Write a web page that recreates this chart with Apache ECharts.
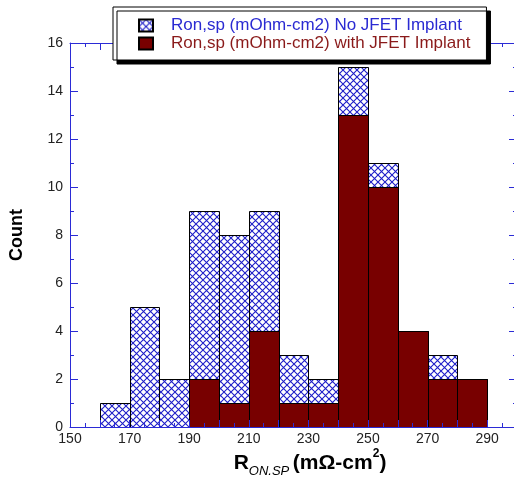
<!DOCTYPE html>
<html>
<head>
<meta charset="utf-8">
<script src="https://cdn.jsdelivr.net/npm/echarts@6/dist/echarts.min.js"></script>
<style>
  html, body { margin: 0; padding: 0; background: #fff; overflow: hidden; }
  #chart { width: 520px; height: 485px; }
</style>
</head>
<body>
<div id="chart"></div>
<script>
// Histogram bins: left edge of each 10 mOhm-cm2 bin
const binStarts = [160, 170, 180, 190, 200, 210, 220, 230, 240, 250, 260, 270, 280];
const binWidth = 10;
// Counts per bin
const countsNoJfet = [1, 5, 2, 9, 8, 9, 3, 2, 15, 11, 4, 3, 2];
const countsWithJfet = [0, 0, 0, 2, 1, 4, 1, 1, 13, 10, 4, 2, 2];
// Axis tick labels
const xTickLabels = [150, 170, 190, 210, 230, 250, 270, 290];
const yTickLabels = [0, 2, 4, 6, 8, 10, 12, 14, 16];

const nameNo = 'Ron,sp (mOhm-cm2) No JFET Implant';
const nameWith = 'Ron,sp (mOhm-cm2) with JFET Implant';

const axisBlue = '#2b2bd6';
const hatchBlue = '#1e1ec8';
const darkRed = '#780000';
const font = '"Liberation Sans", Arial, sans-serif';

// Cross-hatch tile for the "No JFET" bars
function makeHatch() {
  const s = 7;
  const c = document.createElement('canvas');
  c.width = s; c.height = s;
  const g = c.getContext('2d');
  g.fillStyle = '#fff';
  g.fillRect(0, 0, s, s);
  g.strokeStyle = hatchBlue;
  g.lineWidth = 1.1;
  g.beginPath();
  g.moveTo(0, 0); g.lineTo(s, s);
  g.moveTo(s, 0); g.lineTo(0, s);
  g.stroke();
  return c;
}
const hatch = { image: makeHatch(), repeat: 'repeat' };

function binData(counts) {
  return binStarts.map((b, i) => [b, b + binWidth, counts[i]]);
}

function renderBin(params, api) {
  const x0 = api.value(0), x1 = api.value(1), y = api.value(2);
  if (!y) return null;
  const pTop = api.coord([x0, y]);
  const pBot = api.coord([x1, 0]);
  const left = Math.round(pTop[0]) + 0.5;
  const right = Math.round(pBot[0]) + 0.5;
  const top = Math.round(pTop[1]) + 0.5;
  const bottom = Math.round(pBot[1]) + 0.5;
  return {
    type: 'rect',
    shape: { x: left, y: top, width: right - left, height: bottom - top },
    style: api.style({ stroke: '#000', lineWidth: 1 })
  };
}

const tickStyle = { color: axisBlue, width: 1 };

const chart = echarts.init(document.getElementById('chart'), null, { renderer: 'canvas' });
chart.setOption({
  animation: false,
  backgroundColor: '#fff',
  grid: { left: 68, top: 43, right: 2, bottom: 58 },
  legend: {
    orient: 'vertical',
    left: 113,
    top: 7,
    padding: [10, 16, 8, 25],
    itemWidth: 14,
    itemHeight: 12,
    itemGap: 1,
    icon: 'rect',
    backgroundColor: '#fff',
    borderColor: '#000',
    borderWidth: 1,
    shadowColor: '#000',
    shadowBlur: 0,
    shadowOffsetX: 4,
    shadowOffsetY: 4,
    selectedMode: false,
    textStyle: { fontFamily: font, fontSize: 17, lineHeight: 17, padding: [0, 0, 0, 13] },
    data: [
      { name: nameNo, textStyle: { color: '#2a2ad2' } },
      { name: nameWith, textStyle: { color: '#8a1a1a' } }
    ]
  },
  xAxis: [{
    type: 'value',
    min: 150, max: 300, interval: 10,
    z: 3,
    axisLine: { show: true, onZero: false, lineStyle: tickStyle },
    axisTick: { show: true, inside: true, length: 7, lineStyle: tickStyle },
    minorTick: { show: true, splitNumber: 2, length: 4, lineStyle: tickStyle },
    splitLine: { show: false },
    axisLabel: {
      margin: 5,
      fontFamily: font, fontSize: 14, color: '#222',
      formatter: v => xTickLabels.indexOf(v) >= 0 ? String(v) : ''
    }
  }, {
    type: 'value', position: 'top',
    min: 150, max: 300, interval: 10,
    z: 3,
    axisLine: { show: true, onZero: false, lineStyle: tickStyle },
    axisTick: { show: true, inside: true, length: 7, lineStyle: tickStyle },
    minorTick: { show: true, splitNumber: 2, length: 4, lineStyle: tickStyle },
    splitLine: { show: false },
    axisLabel: { show: false }
  }],
  yAxis: [{
    type: 'value',
    min: 0, max: 16, interval: 2,
    z: 3,
    name: 'Count',
    nameLocation: 'middle',
    nameGap: 44,
    nameTextStyle: { fontFamily: font, fontSize: 18, fontWeight: 'bold', color: '#000' },
    axisLine: { show: true, onZero: false, lineStyle: tickStyle },
    axisTick: { show: true, inside: true, length: 8, lineStyle: tickStyle },
    minorTick: { show: true, splitNumber: 2, length: 4, lineStyle: tickStyle },
    splitLine: { show: false },
    axisLabel: {
      margin: 7,
      fontFamily: font, fontSize: 14, color: '#222',
      formatter: v => yTickLabels.indexOf(v) >= 0 ? String(v) : ''
    }
  }, {
    type: 'value', position: 'right',
    min: 0, max: 16, interval: 2,
    z: 3,
    axisLine: { show: true, onZero: false, lineStyle: tickStyle },
    axisTick: { show: true, inside: true, length: 8, lineStyle: tickStyle },
    minorTick: { show: true, splitNumber: 2, length: 4, lineStyle: tickStyle },
    splitLine: { show: false },
    axisLabel: { show: false }
  }],
  graphic: [{
    type: 'text',
    x: 310,
    y: 463,
    style: {
      text: '{r|R}{sub|ON.SP}{sp| }{u|(mΩ-cm}{sup|2}{u|)}',
      align: 'center',
      verticalAlign: 'middle',
      fill: '#000',
      rich: {
        r: { fontFamily: font, fontSize: 21, fontWeight: 'bold', lineHeight: 30, verticalAlign: 'middle' },
        sub: { fontFamily: font, fontSize: 13, fontStyle: 'italic', lineHeight: 30, verticalAlign: 'bottom' },
        sp: { fontFamily: font, fontSize: 13, lineHeight: 30 },
        u: { fontFamily: font, fontSize: 21, fontWeight: 'bold', lineHeight: 30, verticalAlign: 'middle' },
        sup: { fontFamily: font, fontSize: 12, fontWeight: 'bold', lineHeight: 30, verticalAlign: 'top' }
      }
    }
  }],
  series: [{
    name: nameNo,
    type: 'custom',
    z: 2,
    xAxisIndex: 0, yAxisIndex: 0,
    itemStyle: { color: hatch, borderColor: '#000', borderWidth: 1 },
    renderItem: renderBin,
    encode: { x: [0, 1], y: 2 },
    data: binData(countsNoJfet)
  }, {
    name: nameWith,
    type: 'custom',
    z: 2,
    xAxisIndex: 0, yAxisIndex: 0,
    itemStyle: { color: darkRed, borderColor: '#000', borderWidth: 1 },
    renderItem: renderBin,
    encode: { x: [0, 1], y: 2 },
    data: binData(countsWithJfet)
  }]
});
</script>
</body>
</html>
